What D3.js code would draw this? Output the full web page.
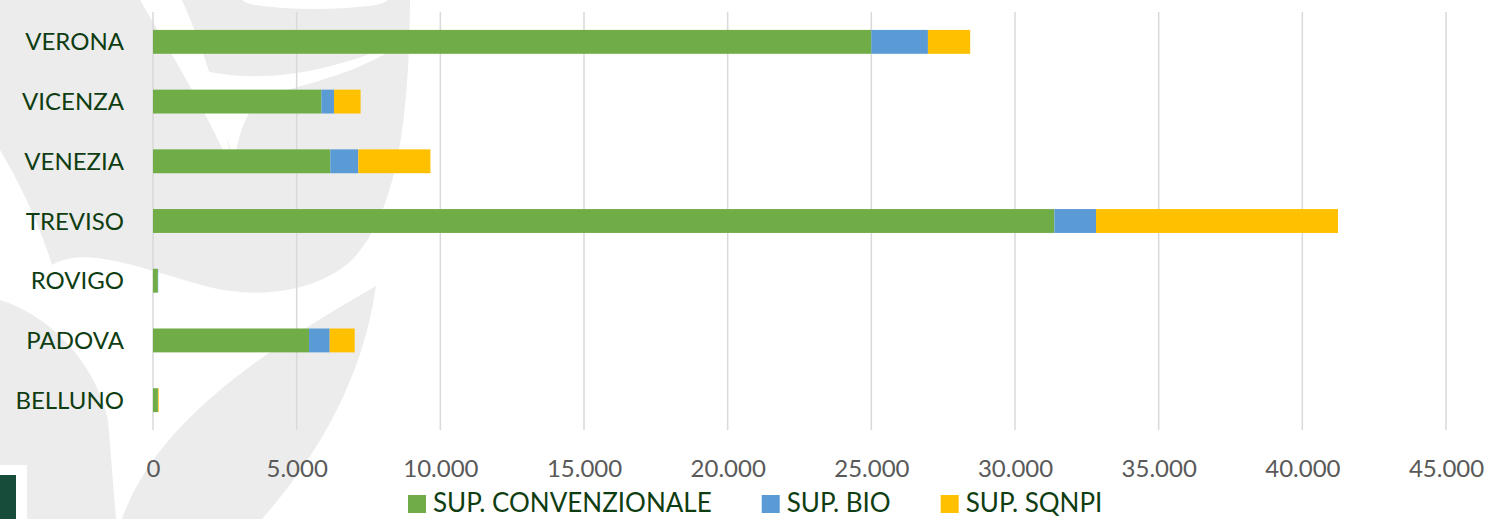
<!DOCTYPE html>
<html>
<head>
<meta charset="utf-8">
<script src="https://cdn.jsdelivr.net/npm/d3@7"></script>
<style>
  body { margin: 0; background: #fff; }
  svg { display: block; font-family: Lato, "Open Sans", sans-serif; }
</style>
</head>
<body>
<div id="chart"></div>
<script>
// province (top to bottom) and surfaces (ha)
var province = ["VERONA", "VICENZA", "VENEZIA", "TREVISO", "ROVIGO", "PADOVA", "BELLUNO"];
var supConvenzionale = [25000, 5860, 6170, 31370, 170, 5430, 170];
var supBio = [1970, 440, 975, 1450, 10, 720, 5];
var supSqnpi = [1470, 925, 2510, 8420, 0, 870, 25];
var serie = ["SUP. CONVENZIONALE", "SUP. BIO", "SUP. SQNPI"];
var colori = ["#70ad47", "#5b9bd5", "#ffc000"];
var xTicks = [0, 5000, 10000, 15000, 20000, 25000, 30000, 35000, 40000, 45000];

var width = 1491, height = 519;
var margin = {top: 12, right: 45, bottom: 89, left: 153};

var svg = d3.select("#chart").append("svg")
    .attr("width", width)
    .attr("height", height);

// watermark in background
var wm = svg.append("g").attr("class", "watermark");
wm.append("path").attr("fill", "#ececec")
    .attr("d", "M0,0 L410,0 C409,110 400,210 352,260 C312,296 250,298 205,286 C140,268 85,245 52,265 C38,220 18,180 0,150 Z");
wm.append("path").attr("fill", "#ececec")
    .attr("d", "M0,300 C40,312 92,352 108,420 L116,519 L0,519 Z");
wm.append("path").attr("fill", "#ececec")
    .attr("d", "M122,519 C150,440 225,372 376,286 C362,385 312,462 262,519 Z");
wm.append("ellipse").attr("fill", "#fff")
    .attr("cx", 315).attr("cy", 0).attr("rx", 72).attr("ry", 9);
wm.append("path").attr("fill", "#fff")
    .attr("d", "M140,0 L182,0 C202,45 224,110 233,172 C206,110 172,55 140,0 Z");
wm.append("path").attr("fill", "#fff")
    .attr("d", "M195,68 C245,84 325,78 407,38 C372,70 302,86 262,96 C246,112 239,132 234,162 C223,120 211,95 195,68 Z");

var x = d3.scaleLinear()
    .domain([0, 45000])
    .range([margin.left, width - margin.right]);

var y = d3.scaleBand()
    .domain(province)
    .range([margin.top, height - margin.bottom])
    .paddingInner(0.6)
    .paddingOuter(0.3);

// gridlines
svg.append("g")
    .selectAll("line")
    .data(xTicks)
    .enter().append("line")
    .attr("x1", function(d) { return x(d); })
    .attr("x2", function(d) { return x(d); })
    .attr("y1", margin.top)
    .attr("y2", height - margin.bottom)
    .attr("stroke", "#d9d9d9")
    .attr("stroke-width", 1.5);

// stacked data
var rows = province.map(function(p, i) {
    return {prov: p, c: supConvenzionale[i], b: supBio[i], s: supSqnpi[i]};
});
var stack = d3.stack().keys(["c", "b", "s"]);
var layers = stack(rows);

svg.append("g")
    .selectAll("g")
    .data(layers)
    .enter().append("g")
    .attr("fill", function(d, i) { return colori[i]; })
    .selectAll("rect")
    .data(function(d) { return d; })
    .enter().append("rect")
    .attr("x", function(d) { return x(d[0]); })
    .attr("width", function(d) { return Math.max(0, x(d[1]) - x(d[0])); })
    .attr("y", function(d) { return y(d.data.prov); })
    .attr("height", y.bandwidth());

// category labels
var yAxis = svg.append("g")
    .attr("transform", "translate(" + (margin.left - 29) + ",0)")
    .call(d3.axisLeft(y).tickSize(0).tickPadding(0));
yAxis.select(".domain").remove();
yAxis.selectAll("text")
    .attr("fill", "#0f3d12")
    .style("font-size", "24px")
    .style("font-family", "Lato, 'Open Sans', sans-serif")
    .attr("dy", "0.36em");

// x tick labels
var fmt = d3.formatLocale({decimal: ",", thousands: ".", grouping: [3], currency: ["", "€"]}).format(",d");
var xAxis = svg.append("g")
    .attr("transform", "translate(0," + (height - margin.bottom) + ")")
    .call(d3.axisBottom(x).tickValues(xTicks).tickFormat(fmt).tickSize(0).tickPadding(30));
xAxis.select(".domain").remove();
xAxis.selectAll("text")
    .attr("fill", "#595959")
    .style("font-size", "24px")
    .style("font-family", "Lato, 'Open Sans', sans-serif");

// legend
var legend = svg.append("g").attr("transform", "translate(408,503)");
var lx = 0;
serie.forEach(function(name, i) {
    var item = legend.append("g").attr("transform", "translate(" + lx + ",0)");
    item.append("rect")
        .attr("x", 0).attr("y", -8)
        .attr("width", 18).attr("height", 18)
        .attr("fill", colori[i]);
    var t = item.append("text")
        .attr("x", 25)
        .attr("dy", "0.36em")
        .attr("fill", "#0f3d12")
        .style("font-size", "26px")
        .text(name);
    lx += 25 + t.node().getComputedTextLength() + 50;
});

// corner box
svg.append("rect").attr("x", 0).attr("y", 465).attr("width", 27).attr("height", 54).attr("fill", "#fff");
svg.append("rect").attr("x", 0).attr("y", 475).attr("width", 16).attr("height", 44).attr("fill", "#174c3a");
</script>
</body>
</html>
